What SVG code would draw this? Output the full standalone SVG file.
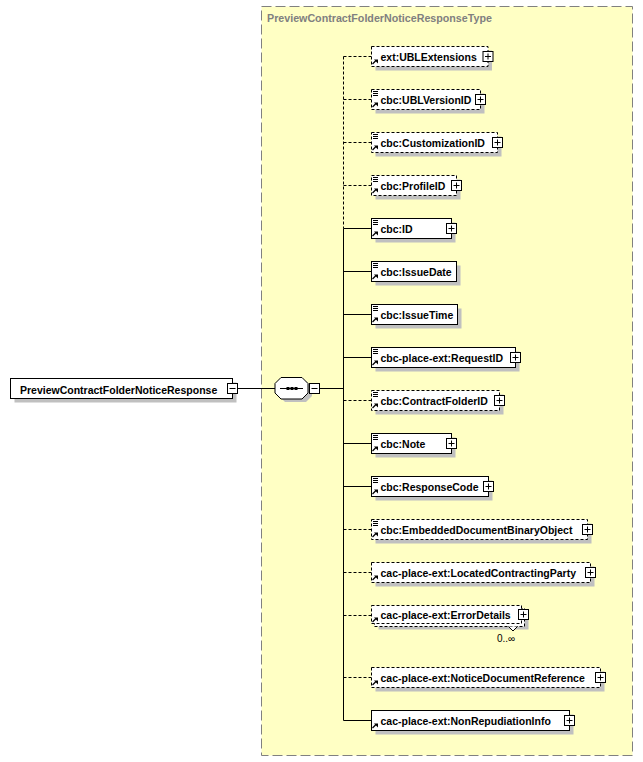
<svg xmlns="http://www.w3.org/2000/svg" width="643" height="762" viewBox="0 0 643 762">
<style>
.t{font-family:"Liberation Sans",Arial,sans-serif;font-weight:bold;font-size:10.5px;fill:#000}
.ttl{font-family:"Liberation Sans",Arial,sans-serif;font-weight:bold;font-size:10.7px;fill:#808080}
.occ{font-family:"Liberation Sans",Arial,sans-serif;font-size:10px;fill:#000}
.box{fill:#fff;stroke:#000;stroke-width:1}
.opt{fill:#fff;stroke:#000;stroke-width:1;stroke-dasharray:3,2}
.sh{fill:#c0c0c0}
.ln{stroke:#000;stroke-width:1;fill:none}
.dl{stroke:#000;stroke-width:1;fill:none;stroke-dasharray:3,2}
.ic{fill:#fff;stroke:#000;stroke-width:1}
</style>
<defs>
<g id="plus"><rect class="ic" x="0" y="0" width="10" height="10"/><path class="ln" d="M2,5H8M5,2V8"/></g>
<g id="minus"><rect class="ic" x="0" y="0" width="10" height="10"/><path class="ln" d="M2,5H8"/></g>
<g id="ref"><path d="M1.5,17.5L5,14" stroke="#000" stroke-width="1.3" fill="none"/><path d="M3,13H7V17Z" fill="#000"/></g>
<g id="simple"><path class="ln" d="M1.5,2H6.5M1.5,4H6.5M1.5,6H6.5"/></g>
</defs>
<rect x="261.5" y="6.5" width="371" height="749" fill="#ffffc4" stroke="#808080" stroke-width="1" stroke-dasharray="10,4"/>
<text class="ttl" x="267" y="21.5">PreviewContractFolderNoticeResponseType</text>

<g id="connectors">
<path class="ln" d="M237.5,388.5H275M319.5,388.5H343.5"/>
<path class="dl" d="M343.5,56.5V228.5"/>
<path class="ln" d="M343.5,228.5V720.5"/>
<path class="dl" d="M343.5,56.5H371.5M343.5,99.5H371.5M343.5,142.5H371.5M343.5,185.5H371.5M343.5,400.5H371.5M343.5,529.5H371.5M343.5,572.5H371.5M343.5,615.5H371.5M343.5,677.5H371.5"/>
<path class="ln" d="M343.5,228.5H371.5M343.5,271.5H371.5M343.5,314.5H371.5M343.5,357.5H371.5M343.5,443.5H371.5M343.5,486.5H371.5M343.5,720.5H371.5"/>
</g>

<g id="root">
<rect class="sh" x="14.5" y="382.5" width="222" height="20"/>
<rect class="box" x="10.5" y="378.5" width="222" height="20"/>
<text class="t" x="20" y="393.5">PreviewContractFolderNoticeResponse</text>
<use href="#minus" x="227.5" y="383.5"/>
</g>

<g id="sequence">
<polygon class="sh" points="285,381 306,381 312,387 312,396 306,402 285,402 279,396 279,387"/>
<polygon class="box" points="281,377.5 302,377.5 308,383.5 308,393 302,399 281,399 275,393 275,383.5"/>
<path class="ln" d="M280,388.5H303"/>
<rect x="286.5" y="387" width="3" height="3" fill="#000"/>
<rect x="290.5" y="387" width="3" height="3" fill="#000"/>
<rect x="294.5" y="387" width="3" height="3" fill="#000"/>
<use href="#minus" x="309.5" y="383.5"/>
</g>

<g id="n1">
<rect class="sh" x="375.5" y="50.5" width="116.5" height="20"/>
<rect class="opt" x="371.5" y="46.5" width="116.5" height="20"/>
<use href="#ref" x="371" y="46.5"/>
<text class="t" x="380.5" y="61">ext:UBLExtensions</text>
<use href="#plus" x="483" y="51.5"/>
</g>
<g id="n2">
<rect class="sh" x="375.5" y="93.5" width="109" height="20"/>
<rect class="opt" x="371.5" y="89.5" width="109" height="20"/>
<use href="#simple" x="371.5" y="89.5"/>
<use href="#ref" x="371" y="89.5"/>
<text class="t" x="380.5" y="104">cbc:UBLVersionID</text>
<use href="#plus" x="475.5" y="94.5"/>
</g>
<g id="n3">
<rect class="sh" x="375.5" y="136.5" width="126" height="20"/>
<rect class="opt" x="371.5" y="132.5" width="126" height="20"/>
<use href="#simple" x="371.5" y="132.5"/>
<use href="#ref" x="371" y="132.5"/>
<text class="t" x="380.5" y="147">cbc:CustomizationID</text>
<use href="#plus" x="492.5" y="137.5"/>
</g>
<g id="n4">
<rect class="sh" x="375.5" y="179.5" width="85" height="20"/>
<rect class="opt" x="371.5" y="175.5" width="85" height="20"/>
<use href="#simple" x="371.5" y="175.5"/>
<use href="#ref" x="371" y="175.5"/>
<text class="t" x="380.5" y="190">cbc:ProfileID</text>
<use href="#plus" x="451.5" y="180.5"/>
</g>
<g id="n5">
<rect class="sh" x="375.5" y="222.5" width="80" height="20"/>
<rect class="box" x="371.5" y="218.5" width="80" height="20"/>
<use href="#simple" x="371.5" y="218.5"/>
<use href="#ref" x="371" y="218.5"/>
<text class="t" x="380.5" y="233">cbc:ID</text>
<use href="#plus" x="446.5" y="223.5"/>
</g>
<g id="n6">
<rect class="sh" x="375.5" y="265.5" width="85" height="20"/>
<rect class="box" x="371.5" y="261.5" width="85" height="20"/>
<use href="#simple" x="371.5" y="261.5"/>
<use href="#ref" x="371" y="261.5"/>
<text class="t" x="380.5" y="276">cbc:IssueDate</text>
</g>
<g id="n7">
<rect class="sh" x="375.5" y="308.5" width="86" height="20"/>
<rect class="box" x="371.5" y="304.5" width="86" height="20"/>
<use href="#simple" x="371.5" y="304.5"/>
<use href="#ref" x="371" y="304.5"/>
<text class="t" x="380.5" y="319">cbc:IssueTime</text>
</g>
<g id="n8">
<rect class="sh" x="375.5" y="351.5" width="144" height="20"/>
<rect class="box" x="371.5" y="347.5" width="144" height="20"/>
<use href="#simple" x="371.5" y="347.5"/>
<use href="#ref" x="371" y="347.5"/>
<text class="t" x="380.5" y="362">cbc-place-ext:RequestID</text>
<use href="#plus" x="510.5" y="352.5"/>
</g>
<g id="n9">
<rect class="sh" x="375.5" y="394.5" width="128" height="20"/>
<rect class="opt" x="371.5" y="390.5" width="128" height="20"/>
<use href="#simple" x="371.5" y="390.5"/>
<use href="#ref" x="371" y="390.5"/>
<text class="t" x="380.5" y="405">cbc:ContractFolderID</text>
<use href="#plus" x="494.5" y="395.5"/>
</g>
<g id="n10">
<rect class="sh" x="375.5" y="437.5" width="80" height="20"/>
<rect class="box" x="371.5" y="433.5" width="80" height="20"/>
<use href="#simple" x="371.5" y="433.5"/>
<use href="#ref" x="371" y="433.5"/>
<text class="t" x="380.5" y="448">cbc:Note</text>
<use href="#plus" x="446.5" y="438.5"/>
</g>
<g id="n11">
<rect class="sh" x="375.5" y="480.5" width="117" height="20"/>
<rect class="box" x="371.5" y="476.5" width="117" height="20"/>
<use href="#simple" x="371.5" y="476.5"/>
<use href="#ref" x="371" y="476.5"/>
<text class="t" x="380.5" y="491">cbc:ResponseCode</text>
<use href="#plus" x="483.5" y="481.5"/>
</g>
<g id="n12">
<rect class="sh" x="375.5" y="523.5" width="216" height="20"/>
<rect class="opt" x="371.5" y="519.5" width="216" height="20"/>
<use href="#simple" x="371.5" y="519.5"/>
<use href="#ref" x="371" y="519.5"/>
<text class="t" x="380.5" y="534">cbc:EmbeddedDocumentBinaryObject</text>
<use href="#plus" x="582.5" y="524.5"/>
</g>
<g id="n13">
<rect class="sh" x="375.5" y="566.5" width="219" height="20"/>
<rect class="opt" x="371.5" y="562.5" width="219" height="20"/>
<use href="#ref" x="371" y="562.5"/>
<text class="t" x="380.5" y="577">cac-place-ext:LocatedContractingParty</text>
<use href="#plus" x="585.5" y="567.5"/>
</g>
<g id="n14">
<rect class="sh" x="378.5" y="612.5" width="150" height="17"/>
<rect class="opt" x="374.5" y="608.5" width="150" height="18"/>
<path d="M508.5,626.5L513,631L517.5,626.5" fill="#fff" stroke="#000" stroke-width="1"/>
<rect class="opt" x="371.5" y="605.5" width="150" height="18"/>
<use href="#ref" x="371" y="604.5"/>
<text class="t" x="380.5" y="619">cac-place-ext:ErrorDetails</text>
<use href="#plus" x="518.5" y="609.5"/>
<text class="occ" x="497" y="642">0..∞</text>
</g>
<g id="n15">
<rect class="sh" x="375.5" y="671.5" width="229" height="20"/>
<rect class="opt" x="371.5" y="667.5" width="229" height="20"/>
<use href="#ref" x="371" y="667.5"/>
<text class="t" x="380.5" y="682">cac-place-ext:NoticeDocumentReference</text>
<use href="#plus" x="595.5" y="672.5"/>
</g>
<g id="n16">
<rect class="sh" x="375.5" y="714.5" width="198" height="20"/>
<rect class="box" x="371.5" y="710.5" width="198" height="20"/>
<use href="#ref" x="371" y="710.5"/>
<text class="t" x="380.5" y="725">cac-place-ext:NonRepudiationInfo</text>
<use href="#plus" x="564.5" y="715.5"/>
</g>
</svg>
